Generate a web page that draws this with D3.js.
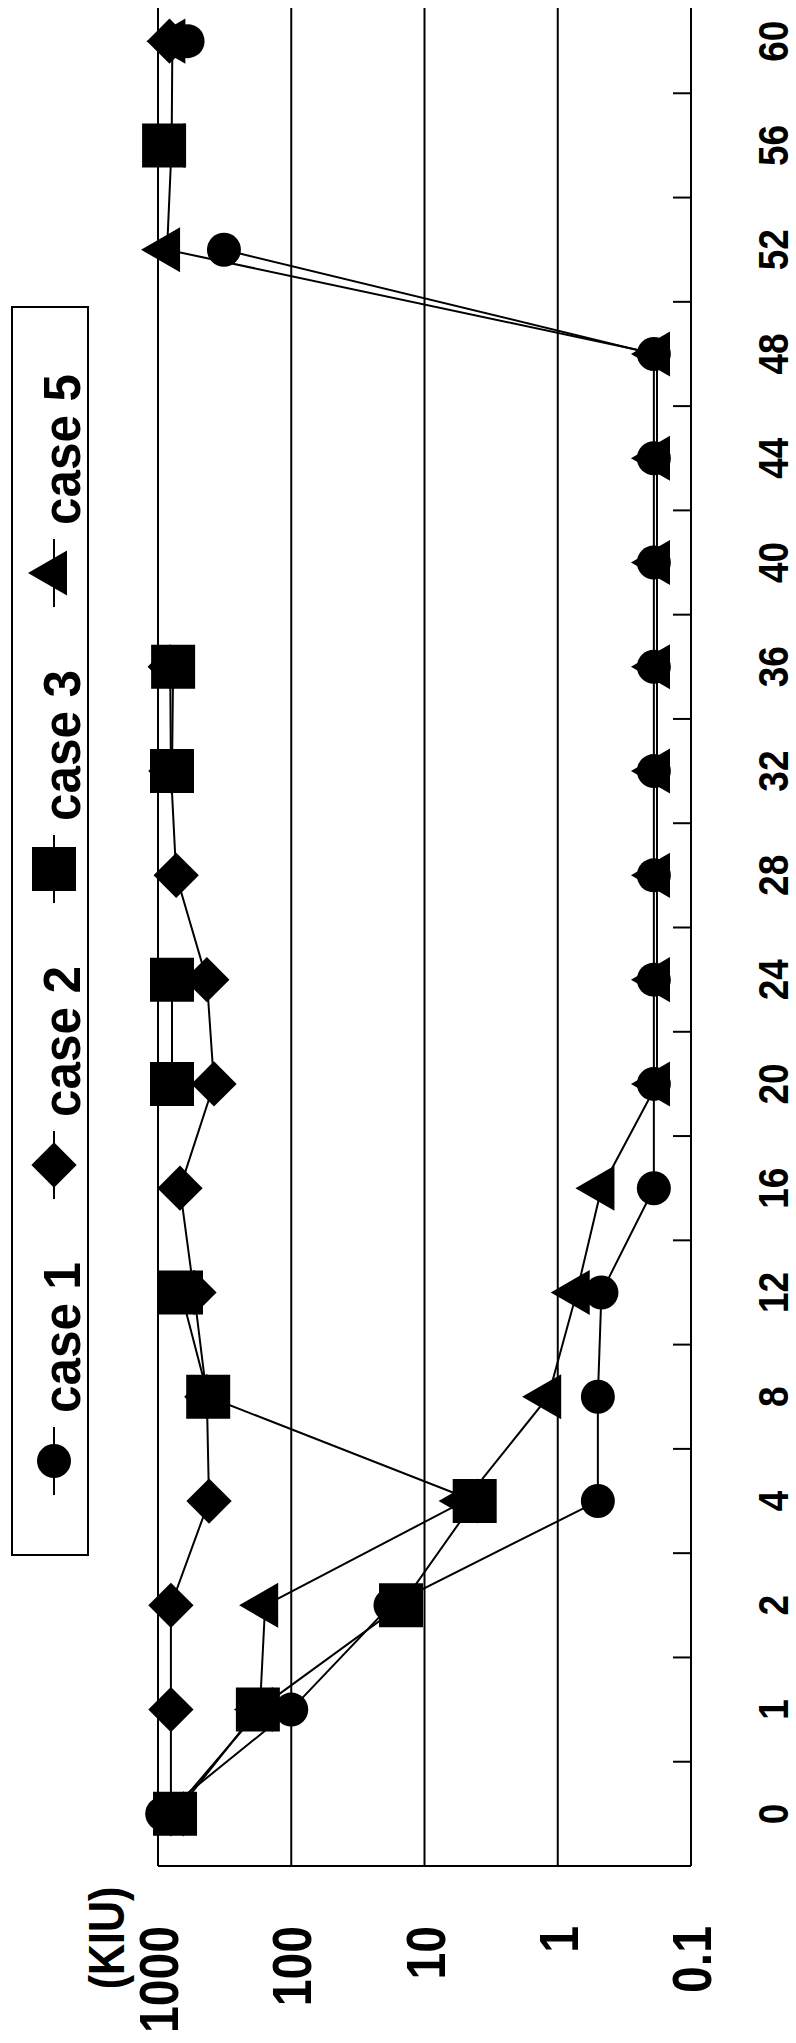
<!DOCTYPE html>
<html>
<head>
<meta charset="utf-8">
<script src="https://cdn.jsdelivr.net/npm/d3@7"></script>
<style>
  html, body { margin: 0; padding: 0; background: #fff; }
  svg text { font-family: "Liberation Sans", Arial, sans-serif; font-weight: bold; fill: #000; }
</style>
</head>
<body>
<div id="chart"></div>
<script>
// days after start (category axis, drawn vertically)
const categories = ["0", "1", "2", "4", "8", "12", "16", "20", "24", "28", "32", "36", "40", "44", "48", "52", "56", "60"];

// KIU values, null = no measurement
const case1 = [930, 100, 18, 0.5, 0.5, 0.47, 0.19, 0.19, 0.19, 0.19, 0.19, 0.19, 0.19, 0.19, 0.19, 320, null, 600];
const case2 = [800, 800, 800, 414, 430, 537, 684, 380, 430, 730, 800, 810, null, null, null, null, null, 820];
const case3 = [745, 178, 15, 4.2, 420, 672, null, 785, 785, null, 785, 770, null, null, null, null, 900, null];
const case5 = [800, 172, 157, 5, 1.18, 0.72, 0.47, 0.18, 0.18, 0.18, 0.18, 0.18, 0.18, 0.18, 0.18, 855, 790, 780];

const valueTicks = [1000, 100, 10, 1, 0.1];
const valueTickLabels = ["1000", "100", "10", "1", "0.1"];
const unitLabel = "(KIU)";
const seriesNames = ["case 1", "case 2", "case 3", "case 5"];
const seriesShapes = ["circle", "diamond", "square", "triangle"];

const W = 796, H = 2043;
const plot = { left: 158, right: 691, bottom: 1866, top: -11, lineTop: 8 };
const squash = 0.86; // text in the scan is a bit narrow

const svg = d3.select("#chart").append("svg")
    .attr("width", W)
    .attr("height", H);

// value axis runs left -> right (1000 ... 0.1), categories bottom -> top
const xScale = d3.scaleLog()
    .domain([1000, 0.1])
    .range([plot.left, plot.right]);

const yScale = d3.scaleBand()
    .domain(categories)
    .range([plot.bottom, plot.top]);

// yScale gives the upper edge of each band
const yMid = c => yScale(c) + yScale.bandwidth() / 2;

function vText(x, y, str, size, anchor, sx) {
    return svg.append("text")
        .attr("transform", "translate(" + x + "," + y + ") rotate(-90) scale(" + (sx || squash) + ",1)")
        .attr("text-anchor", anchor)
        .attr("font-size", size)
        .text(str);
}

// gridlines (1000 .. 1), the 0.1 line is the category axis
svg.append("g")
    .selectAll("line")
    .data(valueTicks.slice(0, 4))
    .join("line")
    .attr("x1", d => xScale(d))
    .attr("x2", d => xScale(d))
    .attr("y1", plot.lineTop)
    .attr("y2", plot.bottom)
    .attr("stroke", "#000")
    .attr("stroke-width", 2);

// value axis line along the bottom
svg.append("line")
    .attr("x1", plot.left).attr("x2", plot.right)
    .attr("y1", plot.bottom).attr("y2", plot.bottom)
    .attr("stroke", "#000").attr("stroke-width", 2);

// category axis line
svg.append("line")
    .attr("x1", plot.right).attr("x2", plot.right)
    .attr("y1", plot.lineTop).attr("y2", plot.bottom)
    .attr("stroke", "#000").attr("stroke-width", 2);

// inward ticks between categories
const boundaries = categories.slice(0, -1).map(c => yScale(c));
svg.append("g")
    .selectAll("line")
    .data(boundaries.filter(b => b > plot.lineTop))
    .join("line")
    .attr("x1", plot.right - 18)
    .attr("x2", plot.right)
    .attr("y1", d => d)
    .attr("y2", d => d)
    .attr("stroke", "#000")
    .attr("stroke-width", 2);

// category labels
categories.forEach(c => vText(788, yMid(c), c, 43, "middle"));

// value labels
valueTicks.forEach((v, i) => vText(xScale(v) + 20, 1926, valueTickLabels[i], 56, "end"));
vText(124, 1938, unitLabel, 50, "middle");

// markers
const symbolPath = {
    circle: d3.symbol().type(d3.symbolCircle).size(Math.PI * 17 * 17)(),
    square: d3.symbol().type(d3.symbolSquare).size(44 * 44)(),
    diamond: d3.symbol().type(d3.symbolSquare).size(32 * 32)(),
    triangle: d3.symbol().type(d3.symbolTriangle).size(880)()
};
const symbolRotate = { circle: 0, square: 0, diamond: 45, triangle: -90 };

function marker(g, shape, x, y) {
    g.append("path")
        .attr("d", symbolPath[shape])
        .attr("transform", "translate(" + x + "," + y + ") rotate(" + symbolRotate[shape] + ")")
        .attr("fill", "#000");
}

const line = d3.line()
    .defined(d => d.v != null)
    .x(d => xScale(d.v))
    .y(d => yMid(d.c));

[case1, case2, case3, case5].forEach((vals, s) => {
    const pts = categories.map((c, i) => ({ c: c, v: vals[i] }));
    const g = svg.append("g");
    g.append("path")
        .datum(pts)
        .attr("d", line)
        .attr("fill", "none")
        .attr("stroke", "#000")
        .attr("stroke-width", 2);
    pts.filter(p => p.v != null).forEach(p => marker(g, seriesShapes[s], xScale(p.v), yMid(p.c)));
});

// legend
const legend = { x: 12, y: 307, w: 76, h: 1248, markerX: 54, firstY: 1461, step: 296 };
svg.append("rect")
    .attr("x", legend.x).attr("y", legend.y)
    .attr("width", legend.w).attr("height", legend.h)
    .attr("fill", "#fff").attr("stroke", "#000").attr("stroke-width", 2);

const gLeg = svg.append("g");
seriesNames.forEach((name, i) => {
    const my = legend.firstY - i * legend.step;
    gLeg.append("line")
        .attr("x1", legend.markerX).attr("x2", legend.markerX)
        .attr("y1", my - 34).attr("y2", my + 34)
        .attr("stroke", "#000").attr("stroke-width", 2);
    marker(gLeg, seriesShapes[i], legend.markerX, my);
    vText(80, my - 48, name, 52, "start", 0.95);
});
</script>
</body>
</html>
